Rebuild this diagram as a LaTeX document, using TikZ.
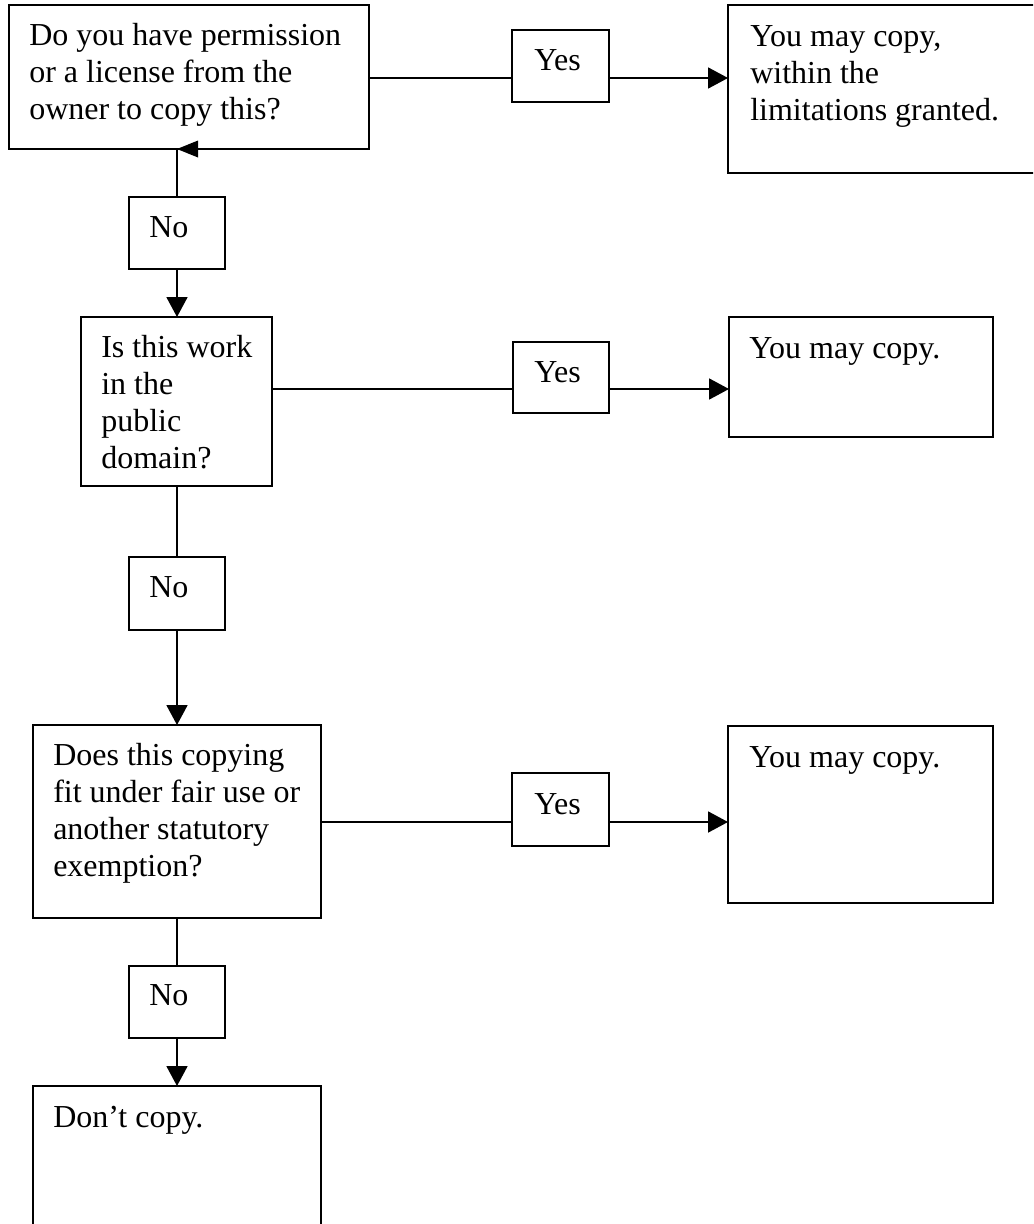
\documentclass[tikz,border=0pt]{standalone}
\usepackage{fontspec}
\setmainfont{Liberation Serif}
\usetikzlibrary{arrows.meta}
\newcommand{\topstrut}{\rule{0pt}{21pt}}
\newcommand{\pbox}[5]{\node[box, minimum width={(#4-#2)*0.75pt}, minimum height={(#5-#3)*0.75pt}] (#1) at ({(#2+#4)/2},{(#3+#5)/2}) {};}
\tikzset{
  box/.style={draw, line width=1.4pt, inner sep=0pt, outer sep=0pt},
  txt/.style={anchor=north west, inner sep=0pt, align=left, font=\fontsize{24pt}{27.75pt}\selectfont},
  conn/.style={line width=1.4pt},
  arr/.style={conn, -{Triangle[length=15pt,width=15.75pt]}},
}
\begin{document}
\begin{tikzpicture}[x=0.75pt, y=-0.75pt]
\useasboundingbox (0,0) rectangle (1033,1224);
\clip (0,0) rectangle (1033,1224);
% boxes
\pbox{b1}{9}{5}{369}{149}
\pbox{r1}{728}{5}{1045}{173}
\pbox{yes1}{512}{30}{609}{102}
\pbox{no1}{129}{197}{225}{269}
\pbox{b2}{81}{317}{272}{486}
\pbox{yes2}{513}{342}{609}{413}
\pbox{r2}{729}{317}{993}{437}
\pbox{no2}{129}{557}{225}{630}
\pbox{b3}{33}{725}{321}{918}
\pbox{yes3}{512}{773}{609}{846}
\pbox{r3}{728}{726}{993}{903}
\pbox{no3}{129}{966}{225}{1038}
\pbox{b4}{33}{1086}{321}{1240}
% texts
\node[txt] (t1) at (29,17) {\topstrut Do you have permission\\or a license from the\\owner to copy this?};
\node[txt] (tr1) at (750,18) {\topstrut You may copy,\\within the\\limitations granted.};
\node[txt] (ty1) at (534,42) {\topstrut Yes};
\node[txt] (tn1) at (149,209) {\topstrut No};
\node[txt] (t2) at (101,329) {\topstrut Is this work\\in the\\public\\domain?};
\node[txt] (ty2) at (534,354) {\topstrut Yes};
\node[txt] (tr2) at (749,330) {\topstrut You may copy.};
\node[txt] (tn2) at (149,569) {\topstrut No};
\node[txt] (t3) at (53,737) {\topstrut Does this copying\\fit under fair use or\\another statutory\\exemption?};
\node[txt] (ty3) at (534,786) {\topstrut Yes};
\node[txt] (tr3) at (749,739) {\topstrut You may copy.};
\node[txt] (tn3) at (149,977) {\topstrut No};
\node[txt] (t4) at (53,1099) {\topstrut Don’t copy.};
% connector guides
\coordinate (col) at (177,0);
\coordinate (row1) at (0,78);
\coordinate (row2) at (0,389);
\coordinate (row3) at (0,822);
% horizontal connectors
\draw[conn] (b1.east |- row1) -- (yes1.west |- row1);
\draw[arr] (yes1.east |- row1) -- (r1.west |- row1);
\draw[conn] (b2.east |- row2) -- (yes2.west |- row2);
\draw[arr] (yes2.east |- row2) -- (r2.west |- row2);
\draw[conn] (b3.east |- row3) -- (yes3.west |- row3);
\draw[arr] (yes3.east |- row3) -- (r3.west |- row3);
% vertical connectors
\draw[conn] (b1.south -| col) -- (no1.north -| col);
\fill (b1.south -| col) -- ++(21,-8.5) -- ++(0,17) -- cycle;
\draw[arr] (no1.south -| col) -- (b2.north -| col);
\draw[conn] (b2.south -| col) -- (no2.north -| col);
\draw[arr] (no2.south -| col) -- (b3.north -| col);
\draw[conn] (b3.south -| col) -- (no3.north -| col);
\draw[arr] (no3.south -| col) -- (b4.north -| col);
\end{tikzpicture}
\end{document}
